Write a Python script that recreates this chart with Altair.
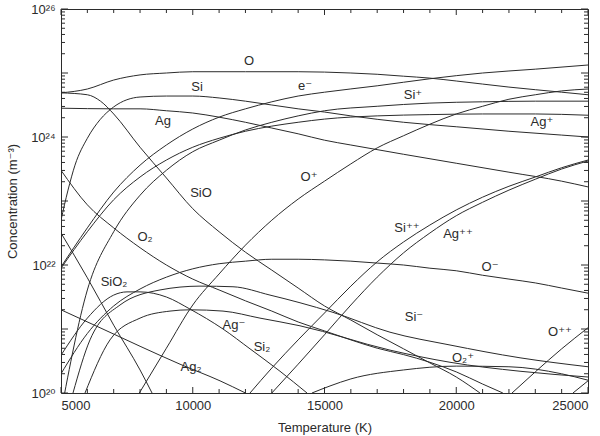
import altair as alt
import pandas as pd

# ---------------- data: temperature (K), log10 concentration (m^-3)
O_T = [5000, 6000, 7000, 8000, 9000, 10000, 12000, 14000, 16000, 17000, 18000, 19000, 20000, 22000, 24000, 25000]
O_L = [24.69, 24.75, 24.89, 24.97, 25.0, 25.02, 25.02, 25.02, 25.0, 24.98, 24.95, 24.92, 24.875, 24.78, 24.70, 24.66]

SIO_T = [5000, 6000, 6500, 7000, 8000, 9000, 10000, 11000, 12000, 13000, 14000, 15000, 16000, 17000, 18000, 19000, 20000, 20900]
SIO_L = [24.69, 24.66, 24.56, 24.36, 23.84, 23.36, 22.88, 22.52, 22.20, 21.92, 21.64, 21.36, 21.14, 20.91, 20.69, 20.47, 20.25, 20.0]

SI_T = [5000, 5266, 5531, 6000, 6480, 7000, 8000, 9000, 10000, 11000, 12000, 13000, 14000, 15000, 16000, 18000, 20000, 22000, 24000, 25000]
SI_L = [22.7, 23.17, 23.56, 23.98, 24.27, 24.47, 24.625, 24.64, 24.64, 24.61, 24.56, 24.5, 24.44, 24.39, 24.33, 24.23, 24.16, 24.09, 24.03, 24.0]

AG_T = [5000, 7000, 8000, 9000, 10000, 11000, 12000, 13000, 14000, 15000, 16000, 18000, 20000, 22000, 24000, 25000]
AG_L = [24.45, 24.44, 24.44, 24.41, 24.375, 24.31, 24.23, 24.14, 24.05, 23.95, 23.875, 23.73, 23.59, 23.45, 23.31, 23.22]

E_T = [5000, 6000, 7000, 8000, 9000, 10000, 11000, 12000, 13000, 14000, 15000, 17000, 19000, 21000, 23000, 25000]
E_L = [21.97, 22.58, 23.14, 23.56, 23.875, 24.125, 24.31, 24.44, 24.55, 24.64, 24.70, 24.80, 24.91, 25.0, 25.06, 25.125]

AGP_T = [5000, 6000, 7000, 8000, 9000, 10000, 11000, 12000, 13000, 14000, 15000, 17000, 19000, 21000, 23000, 25000]
AGP_L = [21.95, 22.52, 23.02, 23.375, 23.64, 23.84, 23.98, 24.09, 24.17, 24.23, 24.28, 24.33, 24.35, 24.36, 24.36, 24.34]

SIP_T = [5000, 6000, 7000, 8000, 9000, 10000, 11000, 12000, 13000, 14000, 15000, 17000, 19000, 21000, 23000, 25000]
SIP_L = [19.7, 21.61, 22.52, 23.09, 23.48, 23.77, 23.95, 24.11, 24.23, 24.33, 24.41, 24.48, 24.53, 24.55, 24.56, 24.56]

OP_T = [7900, 9000, 10000, 11000, 12000, 13000, 14000, 15000, 16000, 17000, 18000, 19000, 20000, 21000, 22000, 23000, 24000, 25000]
OP_L = [19.95, 20.70, 21.375, 21.86, 22.31, 22.70, 23.03, 23.31, 23.58, 23.83, 24.02, 24.20, 24.36, 24.48, 24.59, 24.66, 24.72, 24.75]

SIPP_T = [12173, 13000, 14000, 15000, 16000, 17000, 18000, 19000, 20000, 21000, 22000, 23000, 24000, 25000]
SIPP_L = [20.0, 20.39, 20.83, 21.25, 21.67, 22.05, 22.36, 22.625, 22.86, 23.06, 23.23, 23.375, 23.52, 23.64]

AGPP_T = [13000, 14000, 15000, 16000, 17000, 18000, 19000, 20000, 21000, 22000, 23000, 24000, 25000]
AGPP_L = [20.0, 20.45, 20.91, 21.375, 21.81, 22.19, 22.5, 22.77, 22.98, 23.17, 23.34, 23.5, 23.625]

OPP_T = [22116, 23000, 24000, 25000]
OPP_L = [20.0, 20.33, 20.69, 21.02]

X3_T = [24430, 25000]
X3_L = [20.0, 20.19]

O2P_T = [14525, 15209, 16000, 18000, 20000, 22000, 24000, 25000]
O2P_L = [20.0, 20.11, 20.22, 20.36, 20.42, 20.41, 20.30, 20.20]

OM_T = [5000, 6000, 7000, 8000, 9000, 10000, 11000, 12000, 13000, 14000, 15000, 16000, 17000, 18000, 19000, 20000, 21000, 22000, 23000, 24000, 25000]
OM_L = [20.30, 20.93, 21.36, 21.625, 21.81, 21.94, 22.02, 22.06, 22.09, 22.09, 22.08, 22.06, 22.03, 22.0, 21.95, 21.91, 21.84, 21.78, 21.72, 21.64, 21.56]

SIM_T = [5455, 6100, 7239, 8757, 10275, 11527, 12931, 14070, 15322, 17485, 19763, 22420, 25000]
SIM_L = [20.0, 20.83, 21.375, 21.61, 21.67, 21.66, 21.53, 21.41, 21.26, 20.95, 20.75, 20.55, 20.41]

AGM_T = [5911, 6860, 8000, 9137, 9900, 11148, 12552, 14070, 17485, 19763, 22420, 25000]
AGM_L = [20.0, 20.83, 21.17, 21.28, 21.30, 21.28, 21.17, 21.05, 20.67, 20.48, 20.34, 20.25]

SI2_T = [5000, 6000, 7000, 7505, 8000, 9000, 9900, 11148, 12173, 13311, 14336]
SI2_L = [20.59, 21.17, 21.53, 21.58, 21.58, 21.50, 21.31, 21.0, 20.69, 20.34, 20.0]

SIO2_T = [5000, 6000, 7000, 8000, 8455]
SIO2_L = [22.5, 21.80, 21.06, 20.36, 20.0]

O2_T = [5000, 6000, 7000, 8000, 9000, 10000, 11000, 12000, 13000, 14000, 15000, 16000, 17000, 18000, 19000, 20000, 21000, 21770]
O2_L = [23.48, 22.94, 22.58, 22.27, 22.0, 21.78, 21.61, 21.44, 21.28, 21.11, 20.97, 20.83, 20.70, 20.60, 20.48, 20.33, 20.14, 20.0]

AG2_T = [5000, 6480, 8000, 9517, 11035, 12000]
AG2_L = [21.30, 21.02, 20.73, 20.45, 20.19, 20.0]

# curve labels (text and anchor in data units)
LABEL_TEXT = ["O", "Si", "e\u207b", "Si\u207a", "Ag\u207a", "Ag", "SiO", "O\u207a", "O\u2082",
              "Si\u207a\u207a", "Ag\u207a\u207a", "O\u207b", "SiO\u2082", "Si\u207b", "Ag\u207b",
              "Si\u2082", "O\u2082\u207a", "O\u207a\u207a", "Ag\u2082"]
LABEL_T = [12135, 10161, 14260, 18358, 23254, 8871, 10313, 14412, 8188,
           18131, 20066, 21281, 7011, 18396, 11565, 12628, 20256, 23937, 9934]
LABEL_L = [25.19, 24.78, 24.80, 24.66, 24.23, 24.25, 23.125, 23.375, 22.44,
           22.58, 22.48, 21.97, 21.73, 21.19, 21.06, 20.72, 20.55, 20.95, 20.41]

X_LABELS = [5000, 10000, 15000, 20000, 25000]
Y_LABELS = [1e20, 1e22, 1e24, 1e26]

# ---------------- build tables
series = [
    ("O", O_T, O_L), ("SiO", SIO_T, SIO_L), ("Si", SI_T, SI_L), ("Ag", AG_T, AG_L),
    ("e-", E_T, E_L), ("Ag+", AGP_T, AGP_L), ("Si+", SIP_T, SIP_L), ("O+", OP_T, OP_L),
    ("Si++", SIPP_T, SIPP_L), ("Ag++", AGPP_T, AGPP_L), ("O++", OPP_T, OPP_L),
    ("X+++", X3_T, X3_L), ("O2+", O2P_T, O2P_L), ("O-", OM_T, OM_L), ("Si-", SIM_T, SIM_L),
    ("Ag-", AGM_T, AGM_L), ("Si2", SI2_T, SI2_L), ("SiO2", SIO2_T, SIO2_L),
    ("O2", O2_T, O2_L), ("Ag2", AG2_T, AG2_L),
]
rows = []
for name, ts, ls in series:
    for i, (t, l) in enumerate(zip(ts, ls)):
        rows.append({"species": name, "T": t, "C": 10 ** l, "order": i})
df = pd.DataFrame(rows)

lab_df = pd.DataFrame({"text": LABEL_TEXT, "T": LABEL_T, "C": [10 ** v for v in LABEL_L]})

x_ticks = list(range(5000, 25001, 1000))
xt_major = pd.DataFrame({"T": [t for t in x_ticks if t % 5000 == 0]})
xt_minor = pd.DataFrame({"T": [t for t in x_ticks if t % 5000 != 0]})
yt_major = pd.DataFrame({"C": [10.0 ** d for d in range(20, 27)]})
yt_minor = pd.DataFrame({"C": [k * 10.0 ** d for d in range(20, 26) for k in range(2, 10)]})

W, H = 527, 384
FONT = "Liberation Sans, Arial, DejaVu Sans"
INK = "#2b2b2b"

x_scale = alt.Scale(domain=[5000, 25000], nice=False, zero=False)
y_scale = alt.Scale(type="log", domain=[1e20, 1e26], nice=False)

x_axis = alt.Axis(values=X_LABELS, format="d", ticks=False, domain=False, grid=False,
                  labelFont=FONT, labelFontSize=13, labelColor=INK, labelPadding=6,
                  title="Temperature (K)", titleFont=FONT, titleFontSize=13,
                  titleFontWeight="normal", titleColor=INK, titleY=34, titleBaseline="middle")
y_axis = alt.Axis(values=Y_LABELS, ticks=False, domain=False, grid=False,
                  labelExpr="datum.value < 1e21 ? '10\u00b2\u2070' : datum.value < 1e23 ? '10\u00b2\u00b2' : datum.value < 1e25 ? '10\u00b2\u2074' : '10\u00b2\u2076'",
                  labelFont=FONT, labelFontSize=13, labelColor=INK, labelPadding=6,
                  title="Concentration (m\u207b\u00b3)", titleFont=FONT, titleFontSize=13,
                  titleFontWeight="normal", titleColor=INK, titleAngle=270,
                  titleX=-49, titleY=192, titleAlign="center", titleBaseline="middle")

X_ENC = alt.X("T:Q", scale=x_scale, axis=x_axis, title="Temperature (K)")
Y_ENC = alt.Y("C:Q", scale=y_scale, axis=y_axis, title="Concentration (m\u207b\u00b3)")

lines = alt.Chart(df).mark_line(color=INK, strokeWidth=1, clip=True, interpolate="monotone").encode(
    x=X_ENC, y=Y_ENC, detail="species:N", order="order:Q",
)

labels = alt.Chart(lab_df).mark_text(font=FONT, fontSize=13, color=INK, align="center", baseline="middle").encode(
    x=X_ENC, y=Y_ENC, text="text:N",
)

def xtick(d, length, top):
    if top:
        yv, y2v = alt.value(0), alt.value(length)
    else:
        yv, y2v = alt.value(H), alt.value(H - length)
    return alt.Chart(d).mark_rule(color=INK, strokeWidth=1).encode(x=X_ENC, y=yv, y2=y2v)

def ytick(d, length, right):
    if right:
        xv, x2v = alt.value(W), alt.value(W - length)
    else:
        xv, x2v = alt.value(0), alt.value(length)
    return alt.Chart(d).mark_rule(color=INK, strokeWidth=1).encode(y=Y_ENC, x=xv, x2=x2v)

chart = alt.layer(
    lines, labels,
    xtick(xt_major, 6, False), xtick(xt_minor, 4, False),
    xtick(xt_major, 6, True), xtick(xt_minor, 4, True),
    ytick(yt_major, 7, False), ytick(yt_minor, 4, False),
    ytick(yt_major, 7, True), ytick(yt_minor, 4, True),
).properties(
    width=W, height=H,
    autosize=alt.AutoSizeParams(type="none"),
    padding={"left": 61, "top": 9, "right": 12, "bottom": 43},
    background="white",
).configure_view(stroke=INK, strokeWidth=1)

chart.save("out.html", embed_options={"renderer": "svg", "actions": False})
